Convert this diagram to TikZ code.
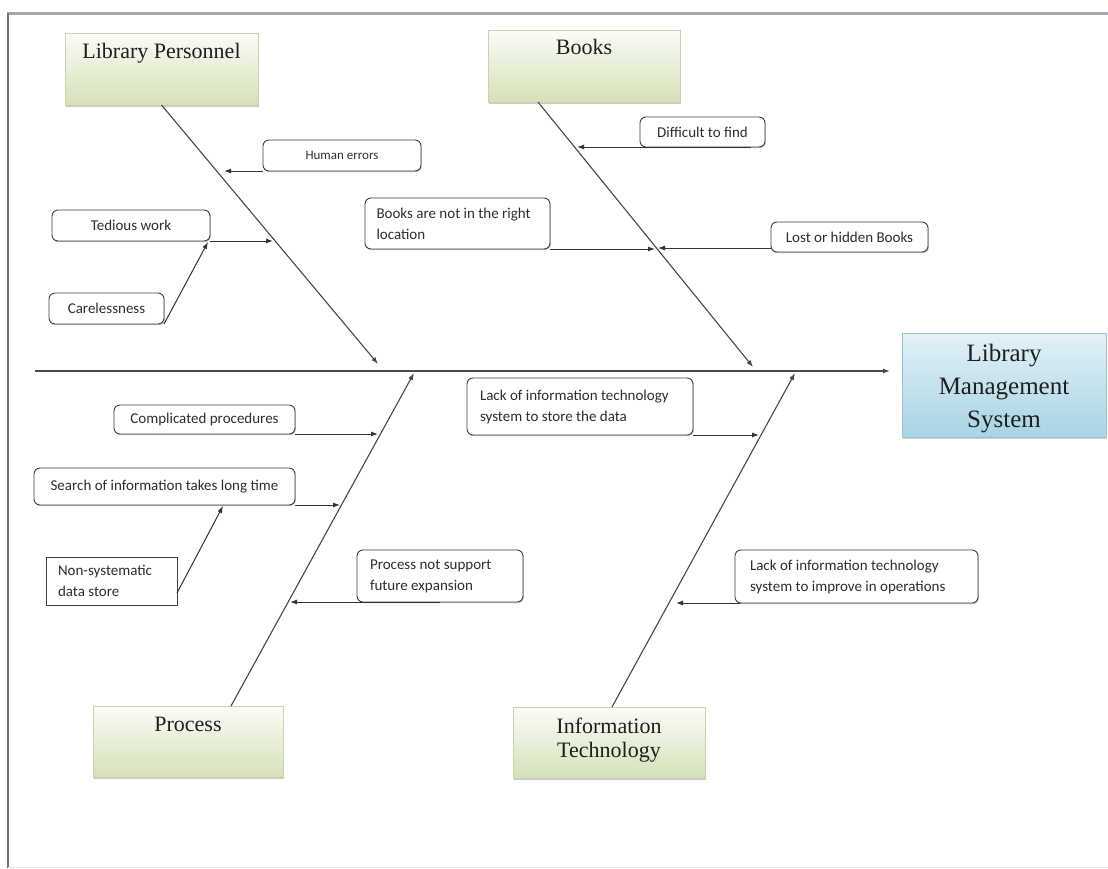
\documentclass[tikz,border=0pt]{standalone}
\usepackage{fontspec}
\setmainfont{Liberation Serif}
\newfontfamily\calib{Carlito}
\usetikzlibrary{arrows.meta,shadows,calc}
\definecolor{gtop}{RGB}{251,252,247}
\definecolor{gbot}{RGB}{212,225,184}
\definecolor{gedge}{RGB}{200,210,176}
\definecolor{btop}{RGB}{226,241,247}
\definecolor{bbot}{RGB}{168,212,228}
\definecolor{bedge}{RGB}{160,190,205}
\definecolor{frameg}{RGB}{165,168,176}
\begin{document}
\begin{tikzpicture}[x=1pt,y=-1pt,
  gbox/.style={draw=gedge, line width=0.8pt, top color=gtop, bottom color=gbot,
    inner sep=0pt, outer sep=0pt, anchor=north west,
    drop shadow={shadow xshift=0.8pt, shadow yshift=-2pt, fill=black!45, opacity=0.45}},
  bbox/.style={draw=bedge, line width=0.8pt, top color=btop, bottom color=bbot,
    inner sep=0pt, outer sep=0pt, anchor=north west,
    drop shadow={shadow xshift=1pt, shadow yshift=-2pt, fill=black!40, opacity=0.45}},
  ttl/.style={inner sep=0pt, font=\fontsize{22}{24}\selectfont, text=black!88},
  cbox/.style={draw=black!75, line width=0.9pt, rounded corners=6pt, fill=white,
    inner sep=0pt, outer sep=0pt, anchor=north west, align=center, text=black!82,
    font=\calib\fontsize{15}{21}\selectfont,
    drop shadow={shadow xshift=0.8pt, shadow yshift=-1.2pt, fill=black!45, opacity=0.5}},
  lbox/.style={cbox, align=flush left},
  arr/.style={-{Latex[length=7pt,width=5pt]}, line width=1pt, draw=black!80},
  bone/.style={line width=1.1pt, draw=black!72, -{Latex[length=7pt,width=5pt]}},
  spine/.style={-{Latex[length=7pt,width=5pt]}, line width=1.2pt, draw=black!70}
]
\useasboundingbox (0,0) rectangle (1108,868);
\fill[white] (0,0) rectangle (1108,868);
% frame
\draw[line width=3pt, draw=frameg] (7,13.5) -- (1108,13.5);
\draw[line width=1.5pt, draw=black!55] (8,13) -- (8,868);
\draw[line width=0.6pt, draw=black!10] (8,867) -- (1108,867);

% category boxes
\node[gbox, minimum width=193pt, minimum height=72pt] (lp) at (65,33) {};
\node[ttl, anchor=base] (lpt) at (161.5,58) {Library Personnel};
\node[gbox, minimum width=192pt, minimum height=72pt] (bk) at (488,30) {};
\node[ttl, anchor=base] (bkt) at (584,54) {Books};
\node[gbox, minimum width=190pt, minimum height=71pt] (pr) at (93,706) {};
\node[ttl, anchor=base] (prt) at (188,731) {Process};
\node[gbox, minimum width=192pt, minimum height=71pt] (it) at (513,707) {};
\node[ttl, anchor=north, align=center] (itt) at (609,718) {Information\\Technology};
\node[bbox, minimum width=204pt, minimum height=104pt] (lms) at (902,333) {};
\node[ttl, anchor=north, align=center, font=\fontsize{25}{33}\selectfont] (lmst) at (1004,344) {Library\\Management\\System};

% cause boxes
\node[cbox, minimum width=158pt, minimum height=31pt, font=\calib\fontsize{13}{15}\selectfont] (he) at (263,140) {Human errors};
\node[cbox, minimum width=158pt, minimum height=31pt] (tw) at (52,210) {Tedious work};
\node[cbox, minimum width=115pt, minimum height=31pt] (cl) at (49,293) {Carelessness};
\node[lbox, text width=162pt, inner xsep=11.5pt, minimum height=51pt] (bn) at (365,198) {Books are not in the right\\location};
\node[cbox, minimum width=125pt, minimum height=30pt] (df) at (640,117) {Difficult to find};
\node[cbox, minimum width=157pt, minimum height=30pt] (lost) at (771,222) {Lost or hidden Books};
\node[cbox, minimum width=181pt, minimum height=29pt] (cp) at (114,405) {Complicated procedures};
\node[cbox, minimum width=261pt, minimum height=37pt] (so) at (34,468) {Search of information takes long time};
\node[lbox, rounded corners=0pt, text width=107pt, inner xsep=12pt, minimum height=48pt] (ns) at (46,557) {Non-systematic\\data store};
\node[lbox, text width=140pt, inner xsep=13pt, minimum height=52pt] (ps) at (357,550) {Process not support\\future expansion};
\node[lbox, text width=200pt, inner xsep=13pt, minimum height=57pt] (ls) at (467,378) {Lack of information technology\\system to store the data};
\node[lbox, text width=213pt, inner xsep=15pt, minimum height=53pt] (li) at (735,550) {Lack of information technology\\system to improve in operations};

% coordinates
\coordinate (spS) at (35,371);
\coordinate (lpE) at (378,364);
\coordinate (bkE) at (753,367);
\coordinate (prE) at (414,373);
\coordinate (itE) at (795,373);
\coordinate (heT) at (224,171);
\coordinate (twT) at (273,241);
\coordinate (clT) at (208,242);
\coordinate (bnT) at (655,249);
\coordinate (dfT) at (577,147);
\coordinate (lostT) at (658,248);
\coordinate (cpT) at (378,434);
\coordinate (soT) at (340,505);
\coordinate (nsT) at (223,506);
\coordinate (psT) at (290,602);
\coordinate (lsT) at (759,435);
\coordinate (liT) at (676,603);

% spine
\draw[spine, shorten >=12pt] (spS) -- (spS -| lms.west);
% bones
\draw[bone] (lp.south) -- (lpE);
\draw[bone] ($(bk.south west)+(50,0)$) -- (bkE);
\draw[bone] ($(pr.north west)+(138,0)$) -- (prE);
\draw[bone] ($(it.north)+(3,0)$) -- (itE);

% cause arrows
\draw[arr] (he.south west) -- (heT);
\draw[arr] (tw.south east) -- (twT);
\draw[arr] (cl.south east) -- (clT);
\draw[arr] (bn.south east) -- (bnT);
\draw[arr] ($(df.south)+(48,0)$) -- (dfT);
\draw[arr] (lostT -| lost.west) -- (lostT);
\draw[arr] (cp.south east) -- (cpT);
\draw[arr] (so.south east) -- (soT);
\draw[arr] ($(ns.south east)+(0,-12)$) -- (nsT);
\draw[arr] (ps.south) -- (psT);
\draw[arr] (ls.south east) -- (lsT);
\draw[arr] ($(li.south west)+(5,0)$) -- (liT);
\end{tikzpicture}
\end{document}
